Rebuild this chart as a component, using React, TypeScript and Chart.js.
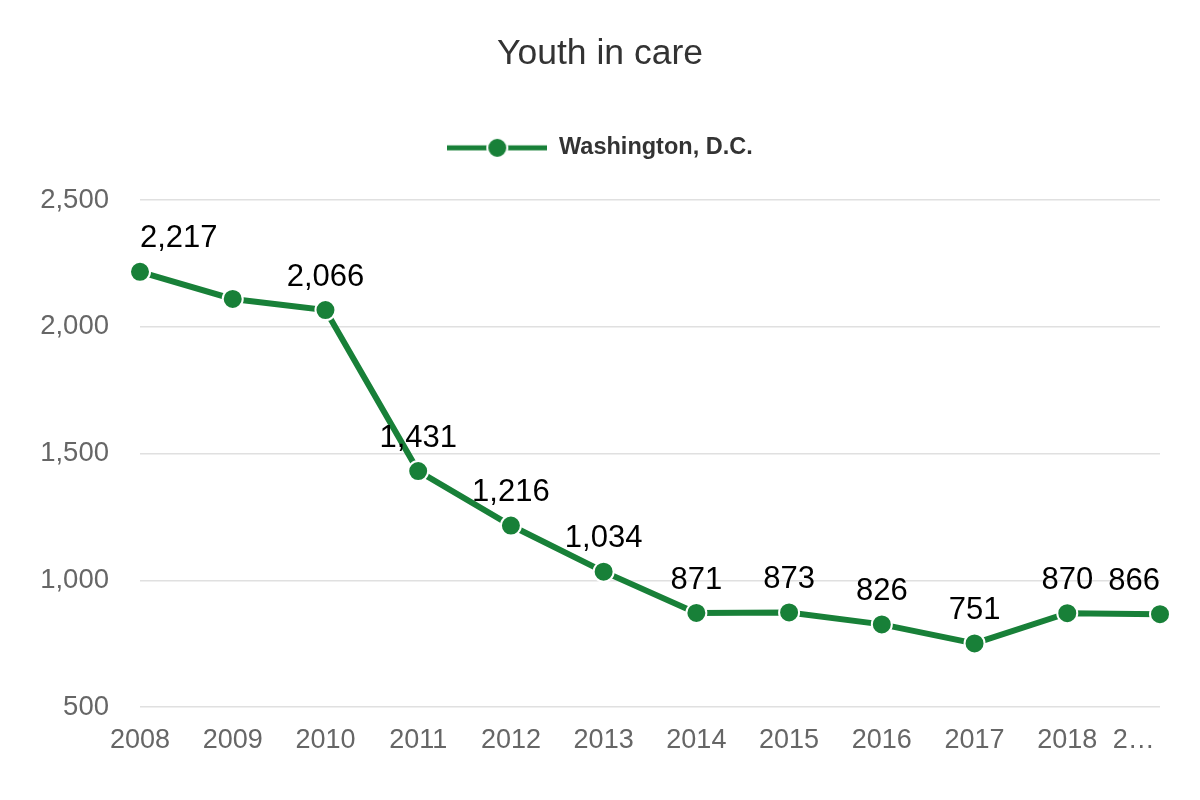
import React, { useEffect, useRef } from "react";
import { Chart, registerables } from "chart.js";

Chart.register(...registerables);

const categories = ["2008", "2009", "2010", "2011", "2012", "2013", "2014", "2015", "2016", "2017", "2018", "2019"];
const tickLabels = ["2008", "2009", "2010", "2011", "2012", "2013", "2014", "2015", "2016", "2017", "2018", "2…\u00A0\u00A0\u00A0\u00A0\u00A0\u00A0\u00A0"];
const seriesName = "Washington, D.C.";
const values = [2217, 2110, 2066, 1431, 1216, 1034, 871, 873, 826, 751, 870, 866];
const hiddenLabelIndexes = [1];
const yTicks = [500, 1000, 1500, 2000, 2500];
const titleText = "Youth in care";

const GREEN = "#188038";
const FONT = "'Liberation Sans', Arial, sans-serif";

function makeLegendMarker(): HTMLCanvasElement {
  const c = document.createElement("canvas");
  c.width = 100;
  c.height = 26;
  const ctx = c.getContext("2d")!;
  ctx.strokeStyle = GREEN;
  ctx.lineWidth = 5;
  ctx.beginPath();
  ctx.moveTo(0, 13);
  ctx.lineTo(100, 13);
  ctx.stroke();
  ctx.beginPath();
  ctx.arc(50, 13, 10, 0, Math.PI * 2);
  ctx.fillStyle = GREEN;
  ctx.fill();
  ctx.lineWidth = 2;
  ctx.strokeStyle = "#ffffff";
  ctx.stroke();
  return c;
}

const legendGapPlugin = {
  id: "legendGap",
  afterInit(chart: any) {
    const lg = chart.legend;
    if (lg && !lg.__patched) {
      const orig = lg.fit.bind(lg);
      lg.fit = function () {
        orig();
        this.height += 30.5;
      };
      lg.__patched = true;
    }
  },
};

const dataLabelPlugin = {
  id: "dataLabels",
  afterDatasetsDraw(chart: any) {
    const ctx = chart.ctx;
    const meta = chart.getDatasetMeta(0);
    const area = chart.chartArea;
    ctx.save();
    ctx.font = `31px ${FONT}`;
    ctx.fillStyle = "#000000";
    ctx.textAlign = "center";
    ctx.textBaseline = "middle";
    meta.data.forEach((pt: any, i: number) => {
      if (hiddenLabelIndexes.includes(i)) return;
      const text = values[i].toLocaleString("en-US");
      const w = ctx.measureText(text).width;
      let x = pt.x;
      x = Math.max(area.left + w / 2, Math.min(area.right - w / 2, x));
      ctx.fillText(text, x, pt.y - 33);
    });
    ctx.restore();
  },
};

export default function App() {
  const ref = useRef<HTMLCanvasElement | null>(null);

  useEffect(() => {
    if (!ref.current) return;
    const marker = makeLegendMarker();
    const chart = new Chart(ref.current, {
      type: "line",
      data: {
        labels: categories,
        datasets: [
          {
            label: seriesName,
            data: values,
            borderColor: GREEN,
            backgroundColor: GREEN,
            borderWidth: 6,
            pointRadius: 10,
            pointHoverRadius: 10,
            pointBackgroundColor: GREEN,
            pointBorderColor: "#ffffff",
            pointBorderWidth: 2,
            tension: 0,
          },
        ],
      },
      options: {
        responsive: false,
        animation: false,
        layout: { padding: { left: 0, right: 0, top: 0, bottom: 0 } },
        plugins: {
          title: {
            display: true,
            text: titleText,
            color: "#333333",
            font: { family: FONT, size: 35.5, weight: "normal" },
            padding: { top: 33, bottom: 50.5 },
          },
          legend: {
            display: true,
            position: "top",
            labels: {
              usePointStyle: true,
              pointStyle: marker,
              pointStyleWidth: 100,
              color: "#333333",
              font: { family: FONT, size: 23.5, weight: "bold" },
              padding: 10,
            },
          },
          tooltip: { enabled: false },
        },
        scales: {
          x: {
            offset: false,
            grid: { display: false, drawTicks: false },
            border: { display: false },
            ticks: {
              color: "#666666",
              font: { family: FONT, size: 27 },
              padding: 17,
              autoSkip: false,
              maxRotation: 0,
              callback: (_v: any, i: number) => tickLabels[i],
            },
            afterFit: (scale: any) => {
              scale.height = 93;
              scale.paddingLeft = 0;
              scale.paddingRight = 0;
            },
          },
          y: {
            min: 500,
            max: 2500,
            afterBuildTicks: (scale: any) => {
              scale.ticks = yTicks.map((v) => ({ value: v }));
            },
            grid: { color: "#e0e0e0", lineWidth: 1.5, drawTicks: false },
            border: { display: false },
            ticks: {
              color: "#666666",
              font: { family: FONT, size: 27.5 },
              padding: 31,
              callback: (v: any) => Number(v).toLocaleString("en-US"),
            },
            afterFit: (scale: any) => {
              scale.width = 140;
            },
          },
          yRight: {
            type: "linear",
            position: "right",
            display: true,
            grid: { display: false, drawTicks: false },
            border: { display: false },
            ticks: { display: false },
            afterFit: (scale: any) => {
              scale.width = 40;
            },
          },
        },
      },
      plugins: [legendGapPlugin, dataLabelPlugin],
    });
    return () => chart.destroy();
  }, []);

  return (
    <div style={{ position: "absolute", left: 0, top: 0, width: 1200, height: 800, background: "#ffffff" }}>
      <canvas ref={ref} width={1200} height={800} />
    </div>
  );
}
